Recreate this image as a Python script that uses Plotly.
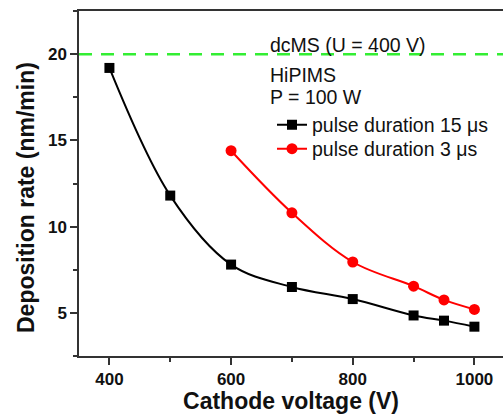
import plotly.graph_objects as go

# ---- data ----
voltage_15us = [400, 500, 600, 700, 800, 900, 950, 1000]
rate_15us = [19.2, 11.8, 7.8, 6.5, 5.8, 4.85, 4.55, 4.2]
voltage_3us = [600, 700, 800, 900, 950, 1000]
rate_3us = [14.4, 10.8, 7.95, 6.55, 5.75, 5.2]
dcms_rate = 20
x_ticks = [400, 600, 800, 1000]
y_ticks = [5, 10, 15, 20]

FONT = "Arial, Liberation Sans, sans-serif"
L, T, W, H = 79, 11, 424, 345


def px(xp):
    return (xp - L) / W


def py(yp):
    return 1 - (yp - T) / H


fig = go.Figure()
fig.add_trace(go.Scatter(
    x=voltage_15us, y=rate_15us, mode="lines+markers",
    name="pulse duration 15 \u03bcs", legend="legend",
    line=dict(color="black", width=2, shape="spline", smoothing=1.0),
    marker=dict(symbol="square", size=10, color="black"),
))
fig.add_trace(go.Scatter(
    x=voltage_3us, y=rate_3us, mode="lines+markers",
    name="pulse duration 3 \u03bcs", legend="legend2",
    line=dict(color="#ff0000", width=2, shape="spline", smoothing=1.0),
    marker=dict(symbol="circle", size=11, color="#ff0000"),
))

fig.add_hline(y=dcms_rate, line=dict(color="#33ee33", width=2.5, dash="13px,9px"))

# text annotations
ann_font = dict(family=FONT, size=19.5, color="#111")
for txt, yc in [("dcMS (U = 400 V)", 44.5), ("HiPIMS", 75), ("P = 100 W", 97)]:
    fig.add_annotation(text=txt, xref="paper", yref="paper", x=px(268), y=py(yc),
                       xanchor="left", yanchor="middle", showarrow=False, font=ann_font)

# y-axis title
fig.add_annotation(text="<b>Deposition rate (nm/min)</b>", xref="paper", yref="paper",
                   x=px(26), y=py(198), xanchor="center", yanchor="middle", textangle=-90,
                   showarrow=False, font=dict(family=FONT, size=23, color="#111"))

leg_common = dict(xanchor="left", yanchor="middle", bgcolor="rgba(0,0,0,0)",
                  font=dict(family=FONT, size=19.5, color="#111"))

fig.update_layout(
    width=503, height=414,
    margin=dict(l=L, r=0, t=T, b=414 - T - H),
    paper_bgcolor="white", plot_bgcolor="white",
    font=dict(family=FONT, color="#111"),
    showlegend=True,
    legend=dict(x=px(272), y=py(125), **leg_common),
    legend2=dict(x=px(272), y=py(149), **leg_common),
    xaxis=dict(
        range=[350, 1047], tickvals=x_ticks, showgrid=False, zeroline=False,
        showline=True, linecolor="#333", linewidth=1.5, mirror=True,
        ticks="outside", ticklen=7, tickwidth=1.5, tickcolor="#333",
        minor=dict(ticks="outside", ticklen=4, tickwidth=1.5, tickcolor="#333", dtick=100),
        tickfont=dict(family=FONT, size=17, color="#111", weight="bold"),
        title=dict(text="<b>Cathode voltage (V)</b>", font=dict(family=FONT, size=23, color="#111"), standoff=5),
    ),
    yaxis=dict(
        range=[2.5, 22.5], tickvals=y_ticks, showgrid=False, zeroline=False,
        showline=True, linecolor="#333", linewidth=1.5, mirror=False,
        ticks="outside", ticklen=7, tickwidth=1.5, tickcolor="#333",
        minor=dict(ticks="outside", ticklen=4, tickwidth=1.5, tickcolor="#333", dtick=2.5, tick0=0),
        tickfont=dict(family=FONT, size=17, color="#111", weight="bold"),
    ),
)

fig.write_html("out.html")
